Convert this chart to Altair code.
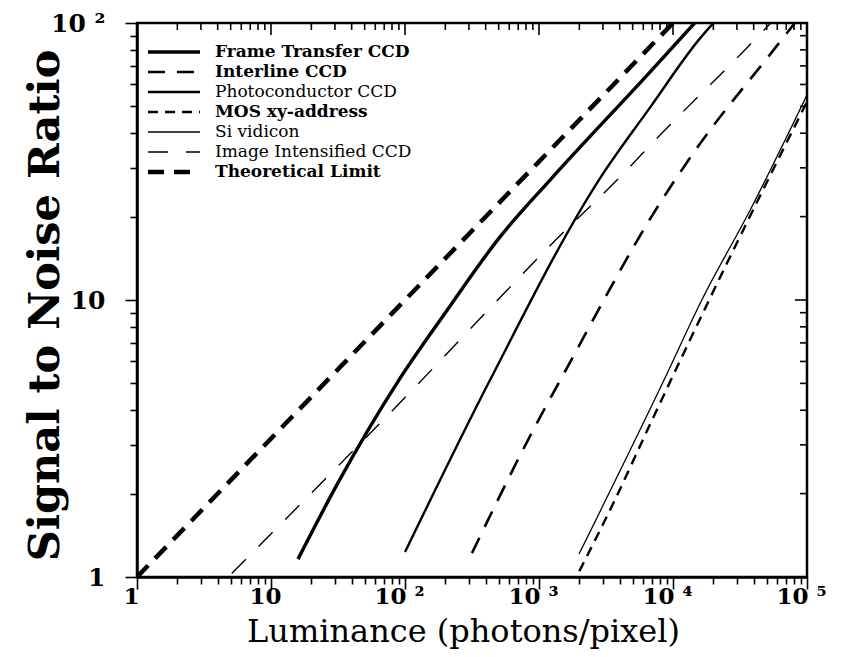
import altair as alt
import pandas as pd

series = ["Frame Transfer CCD", "Interline CCD", "Photoconductor CCD", "MOS xy-address",
          "Si vidicon", "Image Intensified CCD", "Theoretical Limit"]

frame_x = [15.9, 31, 90, 200, 512, 1208, 6730, 14500]
frame_y = [1.16, 2.15, 5.14, 9.0, 16.9, 27.1, 66.5, 100]
interline_x = [316, 966, 1485, 8000, 15100, 51200, 70900, 81000]
interline_y = [1.22, 3.6, 5.27, 22.4, 35.4, 75.4, 92, 100]
photo_x = [100, 431, 2851, 6730, 15900, 20000]
photo_y = [1.23, 5.14, 27.5, 49.5, 88, 100]
mos_x = [2000, 3630, 6730, 18600, 100000]
mos_y = [1.05, 1.87, 3.55, 10, 52]
si_x = [1990, 8570, 16400, 37600, 100000]
si_y = [1.21, 5.14, 10, 21.1, 55]
ii_x = [5.1, 31, 123, 454, 1271, 3821, 8420, 32700, 53700]
ii_y = [1.03, 2.49, 4.93, 9.6, 16.1, 27.1, 40.4, 78, 100]
theo_x = [1, 10, 100, 1000, 10000]
theo_y = [1, 3.16, 10, 31.6, 100]

xs = [frame_x, interline_x, photo_x, mos_x, si_x, ii_x, theo_x]
ys = [frame_y, interline_y, photo_y, mos_y, si_y, ii_y, theo_y]

dashes = [None, [17, 12], None, [10, 7], None, [20, 18], [16, 10]]
widths = [3.4, 2.6, 2.4, 2.4, 1.3, 1.4, 4.5]
legend_weight = ["bold", "bold", "normal", "bold", "normal", "normal", "bold"]

x_major = [1, 10, 100, 1000, 10000, 100000]
x_labels = ["1", "10", "10 ²", "10 ³", "10 ⁴", "10 ⁵"]
y_major = [1, 10, 100]
y_labels = ["1", "10", "10 ²"]
mult = [2, 3, 4, 5, 6, 7, 8, 9]
x_minor = [m * d for d in x_major[:-1] for m in mult]
y_minor = [m * d for d in y_major[:-1] for m in mult]

rows = []
for s, xv, yv in zip(series, xs, ys):
    for a, b in zip(xv, yv):
        rows.append({"series": s, "x": a, "y": b})
df = pd.DataFrame(rows)
leg = pd.DataFrame({"series": series, "w": legend_weight})

FONT = "DejaVu Serif"
W, H = 670, 554


def label_expr(vals, labs):
    e = "''"
    for v, l in reversed(list(zip(vals, labs))):
        e = f"datum.value == {v} ? '{l}' : ({e})"
    return e


def tick_cond(vals, major, minor):
    return {"condition": {"test": "indexof([" + ",".join(str(v) for v in vals) + "], datum.value) >= 0",
                          "value": major}, "value": minor}


xscale = alt.Scale(type="log", domain=[1, 100000], nice=False)
yscale = alt.Scale(type="log", domain=[1, 100], nice=False)

xaxis = alt.Axis(values=x_major + x_minor, labelExpr=label_expr(x_major, x_labels),
                 tickSize=tick_cond(x_major, 12, 7), grid=False, labelFont=FONT,
                 labelFontSize=23, labelFontWeight="bold", labelColor="black",
                 tickColor="black", tickWidth=1.6, domainColor="black", domainWidth=2.5,
                 labelPadding=-4, labelOffset=-6, labelOverlap=False, labelFlush=False,
                 title="Luminance (photons/pixel)", titleFont=FONT, titleFontSize=32,
                 titleFontWeight="normal", titleColor="black", titleX=326, titleY=64,
                 titleBaseline="alphabetic", titleAlign="center")
yaxis = alt.Axis(values=y_major + y_minor, labelExpr=label_expr(y_major, y_labels),
                 tickSize=tick_cond(y_major, 12, 7), grid=False, labelFont=FONT,
                 labelFontSize=25, labelFontWeight="bold", labelColor="black",
                 tickColor="black", tickWidth=1.6, domainColor="black", domainWidth=2.5,
                 labelPadding=20, labelOverlap=False, labelFlush=False,
                 title="Signal to Noise Ratio", titleFont=FONT, titleFontSize=43,
                 titleFontWeight="bold", titleColor="black", titleX=-79, titleY=282,
                 titleAngle=270, titleBaseline="alphabetic", titleAlign="center")

layers = []
for i, s in enumerate(series):
    props = dict(clip=True, interpolate="monotone", color="black", strokeWidth=widths[i])
    if dashes[i]:
        props["strokeDash"] = dashes[i]
    layers.append(
        alt.Chart(df).transform_filter(alt.datum.series == s).mark_line(**props).encode(
            x=alt.X("x:Q", scale=xscale, axis=xaxis),
            y=alt.Y("y:Q", scale=yscale, axis=yaxis),
            order="x:Q",
        )
    )

xt_major = pd.DataFrame({"v": x_major})
xt_minor = pd.DataFrame({"v": x_minor})
yt_major = pd.DataFrame({"v": y_major})
yt_minor = pd.DataFrame({"v": y_minor})

layers += [
    alt.Chart(xt_major).mark_rule(color="black", strokeWidth=1.6).encode(
        x=alt.X("v:Q", scale=xscale, axis=xaxis), y=alt.value(0), y2=alt.value(12)),
    alt.Chart(xt_minor).mark_rule(color="black", strokeWidth=1.6).encode(
        x=alt.X("v:Q", scale=xscale, axis=xaxis), y=alt.value(0), y2=alt.value(7)),
    alt.Chart(yt_major).mark_rule(color="black", strokeWidth=1.6).encode(
        y=alt.Y("v:Q", scale=yscale, axis=yaxis), x=alt.value(W - 12), x2=alt.value(W)),
    alt.Chart(yt_minor).mark_rule(color="black", strokeWidth=1.6).encode(
        y=alt.Y("v:Q", scale=yscale, axis=yaxis), x=alt.value(W - 7), x2=alt.value(W)),
]
main = alt.layer(*layers)

leg_y = alt.Y("series:N", sort=series, axis=None,
              scale=alt.Scale(type="point", domain=series, range=[29, 149], padding=0))
leg_layers = []
for i, s in enumerate(series):
    props = dict(color="black", strokeWidth=widths[i])
    if dashes[i]:
        props["strokeDash"] = dashes[i]
    leg_layers.append(
        alt.Chart(leg).transform_filter(alt.datum.series == s).mark_rule(**props).encode(
            x=alt.value(11), x2=alt.value(63), y=leg_y))
for wgt in ["bold", "normal"]:
    leg_layers.append(
        alt.Chart(leg).transform_filter(alt.datum.w == wgt).mark_text(
            align="left", baseline="middle", font=FONT, fontSize=17, fontWeight=wgt,
            color="black").encode(x=alt.value(78), y=leg_y, text="series:N"))
legend = alt.layer(*leg_layers)

chart = alt.layer(main, legend).resolve_scale(y="independent").properties(
    width=W, height=H, autosize=alt.AutoSizeParams(type="none"),
    padding={"left": 137, "top": 23, "right": 35, "bottom": 80},
    background="white",
).configure_view(stroke="black", strokeWidth=2.5)

chart.save("out.html", embed_options={"renderer": "svg", "actions": False})
